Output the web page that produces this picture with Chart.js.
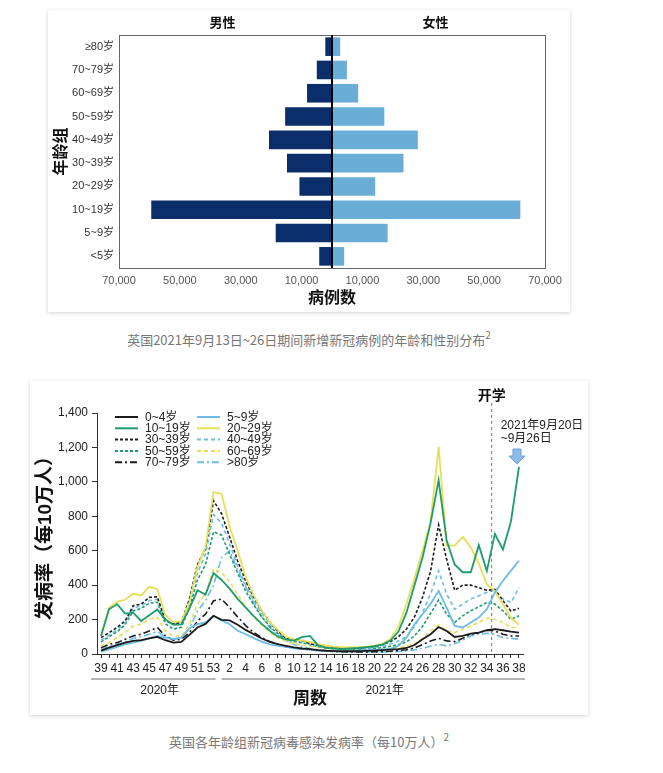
<!DOCTYPE html>
<html>
<head>
<meta charset="utf-8">
<script src="https://cdn.jsdelivr.net/npm/chart.js@4.4.0/dist/chart.umd.min.js"></script>
<style>
  html, body { margin: 0; padding: 0; background: #fff; }
  body { width: 663px; height: 773px; position: relative; overflow: hidden;
         font-family: "Liberation Sans", "Noto Sans CJK SC", sans-serif; }
  .card { position: absolute; background: #fff; box-shadow: 0 1px 4px rgba(0,0,0,0.18); }
  .caption { position: absolute; left: 0; width: 618px; text-align: center;
             font-size: 13px; line-height: 18px; color: #777;
             font-family: "Noto Sans CJK SC", sans-serif; }
  .caption sup { font-size: 10px; vertical-align: 6px; line-height: 0; }
</style>
</head>
<body>

<div class="card" id="card-pyramid" style="left:48px; top:10px; width:522px; height:302px;">
  <canvas id="pyramid" width="522" height="302"></canvas>
</div>
<div class="caption" style="top:331px;">英国2021年9月13日~26日期间新增新冠病例的年龄和性别分布<sup>2</sup></div>

<div class="card" id="card-rates" style="left:30px; top:381px; width:558px; height:334px;">
  <canvas id="rates" width="558" height="334"></canvas>
</div>
<div class="caption" style="top:733px;">英国各年龄组新冠病毒感染发病率（每10万人）<sup>2</sup></div>

<script>
// ---------- chart 1: cases by age and sex ----------
const ageGroups = ['≥80岁', '70~79岁', '60~69岁', '50~59岁', '40~49岁', '30~39岁', '20~29岁', '10~19岁', '5~9岁', '<5岁'];
const maleCases = [2200, 5000, 8200, 15400, 20700, 14800, 10700, 59400, 18500, 4200];
const femaleCases = [2700, 4900, 8600, 17200, 28200, 23500, 14200, 61900, 18300, 4000];
const caseTicks = [-70000, -50000, -30000, -10000, 10000, 30000, 50000, 70000];

// ---------- chart 2: weekly incidence per 100k ----------
const weekLabels = ['39', '40', '41', '42', '43', '44', '45', '46', '47', '48', '49', '50', '51', '52', '53',
  '1', '2', '3', '4', '5', '6', '7', '8', '9', '10', '11', '12', '13', '14', '15', '16', '17', '18', '19', '20',
  '21', '22', '23', '24', '25', '26', '27', '28', '29', '30', '31', '32', '33', '34', '35', '36', '37', '38'];
const rateTicks = [0, 200, 400, 600, 800, 1000, 1200, 1400];

const age0to4 = [20, 37, 52, 66, 76, 80, 91, 99, 80, 66, 70, 111, 154, 175, 222, 198, 195,
  170, 140, 115, 90, 70, 57, 47, 38, 32, 28, 23, 19, 17, 16, 16, 17, 18,
  20, 22, 25, 28, 35, 52, 86, 115, 157, 134, 99, 105, 119, 124, 138, 144, 138, 130, 124];
const age5to9 = [14, 27, 41, 56, 66, 76, 91, 105, 95, 86, 95, 150, 173, 183, 222, 195, 173,
  135, 115, 92, 72, 56, 47, 41, 33, 28, 25, 20, 18, 16, 15, 15, 18, 22,
  24, 27, 30, 47, 95, 173, 231, 290, 367, 270, 163, 154, 183, 212, 260, 358, 425, 484, 542];
const age10to19 = [105, 260, 290, 235, 240, 192, 225, 258, 200, 170, 172, 265, 370, 345, 470, 430, 380,
  320, 270, 220, 175, 135, 100, 85, 78, 98, 105, 50, 35, 32, 30, 32, 35, 40,
  45, 55, 78, 130, 240, 400, 560, 760, 1010, 660, 520, 475, 475, 632, 482, 698, 607, 770, 1087];
const age20to29 = [110, 270, 305, 315, 350, 340, 390, 378, 225, 185, 190, 300, 505, 620, 940, 930, 740,
  600, 445, 340, 250, 185, 140, 100, 85, 78, 70, 58, 48, 42, 40, 38, 40, 42,
  48, 60, 86, 160, 290, 440, 600, 770, 1205, 630, 630, 680, 620, 525, 405, 365, 290, 210, 170];
const age30to39 = [95, 124, 154, 192, 280, 290, 329, 332, 195, 175, 183, 320, 520, 610, 890, 815, 680,
  540, 425, 330, 250, 185, 135, 90, 82, 78, 60, 50, 42, 36, 33, 32, 34, 38,
  45, 55, 72, 100, 145, 215, 330, 480, 750, 550, 370, 400, 400, 385, 370, 375, 310, 250, 265];
const age40to49 = [80, 110, 140, 180, 265, 280, 310, 318, 195, 175, 180, 300, 470, 580, 810, 760, 640,
  510, 400, 310, 235, 175, 130, 90, 78, 72, 58, 48, 40, 34, 30, 28, 30, 33,
  38, 45, 58, 75, 100, 160, 240, 350, 484, 348, 260, 290, 319, 338, 358, 371, 319, 299, 387];
const age50to59 = [70, 100, 130, 170, 250, 265, 295, 300, 175, 145, 155, 270, 430, 520, 710, 690, 580,
  470, 365, 285, 215, 160, 118, 85, 72, 66, 54, 44, 37, 32, 28, 26, 27, 30,
  33, 38, 45, 55, 70, 105, 160, 235, 313, 231, 183, 222, 251, 274, 299, 290, 251, 202, 222];
const age60to69 = [47, 66, 95, 124, 163, 173, 202, 212, 134, 105, 105, 173, 290, 348, 494, 474, 420,
  345, 275, 215, 165, 125, 95, 72, 60, 52, 45, 38, 32, 28, 25, 23, 23, 24,
  26, 28, 32, 38, 45, 60, 90, 134, 169, 134, 124, 144, 163, 183, 208, 202, 183, 154, 154];
const age70to79 = [37, 56, 66, 86, 105, 115, 134, 154, 105, 80, 86, 124, 192, 231, 309, 319, 270,
  215, 165, 125, 95, 72, 55, 42, 35, 30, 25, 20, 17, 15, 13, 12, 12, 12,
  13, 14, 16, 20, 25, 35, 55, 75, 91, 76, 72, 91, 115, 124, 138, 134, 115, 105, 105];
const age80plus = [30, 45, 55, 70, 90, 100, 115, 130, 100, 85, 95, 150, 250, 310, 400, 560, 600,
  490, 390, 295, 215, 155, 110, 78, 55, 42, 32, 25, 20, 16, 14, 12, 12, 12,
  12, 12, 13, 15, 18, 24, 33, 45, 56, 47, 60, 80, 105, 115, 120, 115, 95, 91, 86];

const schoolStart = 48.6; // dashed marker, just after week 34 of 2021

const FONT = '"Liberation Sans", "Noto Sans CJK SC", sans-serif';
Chart.defaults.font.family = FONT;

const BLACK = '#1c1c1c';
const BLUE = '#6dbde8';
const GREEN = '#1f9c6c';
const YELLOW = '#e6e058';

// Frame, centre line and sex headers for the pyramid
const pyramidDecor = {
    id: 'pyramidDecor',
    afterDraw(chart) {
        const { ctx, chartArea: a, scales: { x } } = chart;
        ctx.save();
        ctx.strokeStyle = '#666';
        ctx.lineWidth = 1;
        ctx.strokeRect(a.left + 0.5, a.top + 0.5, a.right - a.left, a.bottom - a.top);

        const x0 = x.getPixelForValue(0);
        ctx.strokeStyle = '#000';
        ctx.lineWidth = 2;
        ctx.beginPath();
        ctx.moveTo(x0, a.top);
        ctx.lineTo(x0, a.bottom);
        ctx.stroke();

        ctx.fillStyle = '#111';
        ctx.font = 'bold 13px "Noto Sans CJK SC", sans-serif';
        ctx.textAlign = 'center';
        ctx.textBaseline = 'middle';
        ctx.fillText('男性', x.getPixelForValue(-36000), a.top - 13);
        ctx.fillText('女性', x.getPixelForValue(34000), a.top - 13);
        ctx.restore();
    }
};

new Chart(document.getElementById('pyramid').getContext('2d'), {
    type: 'bar',
    data: {
        labels: ageGroups,
        datasets: [
            {
                label: '男性',
                data: maleCases.map(v => -v),
                backgroundColor: '#0b2e6b',
                barPercentage: 0.8,
                categoryPercentage: 1
            },
            {
                label: '女性',
                data: femaleCases,
                backgroundColor: '#6aaed8',
                barPercentage: 0.8,
                categoryPercentage: 1
            }
        ]
    },
    options: {
        indexAxis: 'y',
        responsive: false,
        animation: false,
        layout: { padding: { top: 25, right: 25, bottom: 0, left: 0 } },
        plugins: { legend: { display: false }, tooltip: { enabled: false } },
        scales: {
            x: {
                stacked: true,
                min: -70000,
                max: 70000,
                afterBuildTicks: s => { s.ticks = caseTicks.map(v => ({ value: v })); },
                afterFit: s => { s.height = 44; },
                grid: { display: false, drawTicks: false },
                border: { display: false },
                ticks: {
                    autoSkip: false,
                    maxRotation: 0,
                    padding: 6,
                    color: '#555',
                    font: { size: 11 },
                    callback: v => Math.abs(v).toLocaleString('en-US')
                },
                title: {
                    display: true,
                    text: '病例数',
                    color: '#111',
                    font: { size: 16, weight: 'bold' },
                    padding: { top: 0, bottom: 4 }
                }
            },
            y: {
                stacked: true,
                afterFit: s => { s.width = 71; },
                grid: { display: false, drawTicks: false },
                border: { display: false },
                ticks: { padding: 5, color: '#333', font: { size: 11 } },
                title: {
                    display: true,
                    text: '年龄组',
                    color: '#111',
                    font: { size: 16, weight: 'bold' },
                    padding: { top: 4, bottom: 0 }
                }
            }
        }
    },
    plugins: [pyramidDecor]
});

// ---------- incidence lines ----------
const seriesDefs = [
    { label: '0~4岁', data: age0to4, color: BLACK, dash: [] },
    { label: '5~9岁', data: age5to9, color: BLUE, dash: [] },
    { label: '10~19岁', data: age10to19, color: GREEN, dash: [] },
    { label: '20~29岁', data: age20to29, color: YELLOW, dash: [] },
    { label: '30~39岁', data: age30to39, color: BLACK, dash: [3, 2] },
    { label: '40~49岁', data: age40to49, color: BLUE, dash: [4, 3] },
    { label: '50~59岁', data: age50to59, color: GREEN, dash: [3, 2] },
    { label: '60~69岁', data: age60to69, color: YELLOW, dash: [4, 3] },
    { label: '70~79岁', data: age70to79, color: BLACK, dash: [7, 3, 2, 3] },
    { label: '>80岁', data: age80plus, color: BLUE, dash: [7, 3, 2, 3] }
];

const ratesDecor = {
    id: 'ratesDecor',
    afterDraw(chart) {
        const { ctx, chartArea: a, scales: { x } } = chart;
        const step = x.getPixelForValue(1) - x.getPixelForValue(0);
        const at = i => x.getPixelForValue(Math.floor(i)) + (i - Math.floor(i)) * step;
        ctx.save();

        // school start marker
        const sx = at(schoolStart);
        ctx.strokeStyle = '#777';
        ctx.lineWidth = 1;
        ctx.setLineDash([3, 3]);
        ctx.beginPath();
        ctx.moveTo(sx, 22);
        ctx.lineTo(sx, a.bottom);
        ctx.stroke();
        ctx.setLineDash([]);

        ctx.fillStyle = '#111';
        ctx.textBaseline = 'middle';
        ctx.textAlign = 'center';
        ctx.font = 'bold 14px "Noto Sans CJK SC", sans-serif';
        ctx.fillText('开学', sx, 14);

        ctx.textAlign = 'left';
        ctx.fillStyle = '#222';
        ctx.font = '12px ' + FONT;
        ctx.fillText('2021年9月20日', sx + 9, 45);
        ctx.fillText('~9月26日', sx + 9, 58);

        // arrow over the latest week
        const ax = x.getPixelForValue(weekLabels.length - 1) - 2;
        const top = 68;
        ctx.fillStyle = '#8dbbe8';
        ctx.strokeStyle = '#6d9fd8';
        ctx.beginPath();
        ctx.moveTo(ax - 4, top);
        ctx.lineTo(ax + 4, top);
        ctx.lineTo(ax + 4, top + 7);
        ctx.lineTo(ax + 8, top + 7);
        ctx.lineTo(ax, top + 15);
        ctx.lineTo(ax - 8, top + 7);
        ctx.lineTo(ax - 4, top + 7);
        ctx.closePath();
        ctx.fill();
        ctx.stroke();

        // year brackets under the week ticks
        const split = at(14.5);
        ctx.strokeStyle = '#b5b5b5';
        ctx.lineWidth = 2;
        ctx.beginPath();
        ctx.moveTo(a.left - 6, 298);
        ctx.lineTo(split - 2, 298);
        ctx.moveTo(split + 4, 298);
        ctx.lineTo(a.right + 2, 298);
        ctx.stroke();
        ctx.fillStyle = '#222';
        ctx.textAlign = 'center';
        ctx.fillText('2020年', at(7.3), 310);
        ctx.fillText('2021年', at(35.3), 310);

        // two-column legend
        chart.data.datasets.forEach((ds, k) => {
            const col = k % 2, row = Math.floor(k / 2);
            const lx = a.left + 18 + col * 82;
            const ly = a.top + 4 + row * 11.3;
            ctx.strokeStyle = ds.borderColor;
            ctx.lineWidth = 2;
            ctx.setLineDash(ds.borderDash || []);
            ctx.beginPath();
            ctx.moveTo(lx, ly);
            ctx.lineTo(lx + 23, ly);
            ctx.stroke();
            ctx.setLineDash([]);
            ctx.fillStyle = '#222';
            ctx.textAlign = 'left';
            ctx.fillText(ds.label, lx + 30, ly + 0.5);
        });
        ctx.restore();
    }
};

new Chart(document.getElementById('rates').getContext('2d'), {
    type: 'line',
    data: {
        labels: weekLabels,
        datasets: seriesDefs.map(s => ({
            label: s.label,
            data: s.data,
            borderColor: s.color,
            borderDash: s.dash,
            borderWidth: s.dash.length ? 1.6 : 1.8,
            pointRadius: 0,
            tension: 0,
            fill: false
        }))
    },
    options: {
        responsive: false,
        animation: false,
        layout: { padding: { top: 32, right: 65, bottom: 0, left: 0 } },
        plugins: { legend: { display: false }, tooltip: { enabled: false } },
        scales: {
            x: {
                offset: true,
                afterFit: s => { s.height = 61; },
                grid: { drawOnChartArea: false, drawTicks: true, tickLength: 4, color: '#333', offset: false },
                border: { display: true, color: '#333' },
                ticks: {
                    autoSkip: false,
                    maxRotation: 0,
                    padding: 3,
                    color: '#222',
                    font: { size: 12 },
                    callback: (v, i) => (i % 2 === 0 ? weekLabels[i] : '')
                },
                title: {
                    display: true,
                    text: '周数',
                    color: '#111',
                    font: { size: 17, weight: 'bold' },
                    padding: { top: 0, bottom: 5 }
                }
            },
            y: {
                min: 0,
                max: 1400,
                afterFit: s => { s.width = 67; },
                afterBuildTicks: s => { s.ticks = rateTicks.map(v => ({ value: v })); },
                grid: { drawOnChartArea: false, drawTicks: true, tickLength: 5, color: '#333' },
                border: { display: true, color: '#333' },
                ticks: {
                    padding: 4,
                    color: '#222',
                    font: { size: 12 },
                    callback: v => v.toLocaleString('en-US')
                },
                title: {
                    display: true,
                    text: '发病率（每10万人）',
                    color: '#111',
                    font: { size: 19, weight: 'bold' },
                    padding: { top: 4, bottom: 0 }
                }
            }
        }
    },
    plugins: [ratesDecor]
});
</script>
</body>
</html>
